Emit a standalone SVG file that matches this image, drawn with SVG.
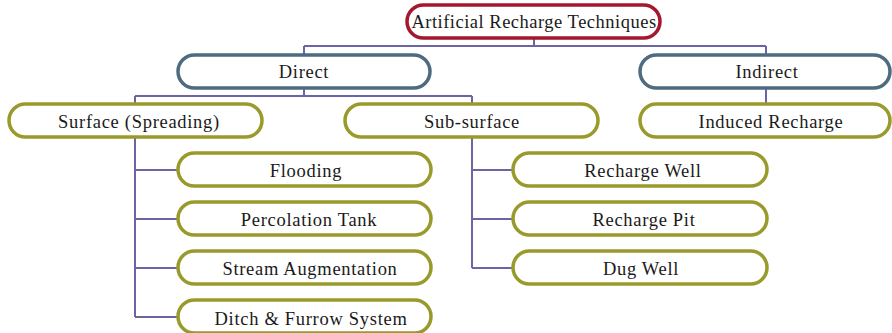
<svg xmlns="http://www.w3.org/2000/svg" width="892" height="333" viewBox="0 0 892 333">
<style>
.n rect{fill:#fff;stroke-width:3.5}
.r rect{stroke:#a5162f}
.b rect{stroke:#4e6b80}
.o rect{stroke:#9a9a2c}
text{font-family:"Liberation Serif","Times New Roman",serif;font-size:18.5px;fill:#1a1a1a;text-anchor:middle;letter-spacing:0.7px}
.c{fill:none;stroke:#6b66a3;stroke-width:2}
</style>
<rect width="892" height="333" fill="#fff"/>
<g id="connectors" class="c">
<path d="M534 38V46M304 46H766M304 46V55M766 46V55"/>
<path d="M304 88V96M135 96H472M135 96V104M472 96V104"/>
<path d="M766 88V104"/>
<path d="M135 137V317M135 170H178M135 219H178M135 268H178M135 317H178"/>
<path d="M472 137V268M472 170H513M472 219H513M472 268H513"/>
</g>
<g id="n-root" class="n r"><rect x="407" y="5" width="253" height="33" rx="16.5"/><text x="534" y="28" style="letter-spacing:0.5px">Artificial Recharge Techniques</text></g>
<g id="n-direct" class="n b"><rect x="178" y="55" width="252" height="33" rx="16.5"/><text x="304" y="78">Direct</text></g>
<g id="n-indirect" class="n b"><rect x="640" y="55" width="250" height="33" rx="16.5"/><text x="767" y="78">Indirect</text></g>
<g id="n-surface" class="n o"><rect x="9" y="104" width="253" height="33" rx="16.5"/><text x="139" y="128">Surface (Spreading)</text></g>
<g id="n-subsurface" class="n o"><rect x="345" y="104" width="253" height="33" rx="16.5"/><text x="472" y="128">Sub-surface</text></g>
<g id="n-induced" class="n o"><rect x="640" y="104" width="250" height="33" rx="16.5"/><text x="771" y="128">Induced Recharge</text></g>
<g id="n-flooding" class="n o"><rect x="178" y="153" width="253" height="33" rx="16.5"/><text x="306" y="177">Flooding</text></g>
<g id="n-percolation" class="n o"><rect x="178" y="202" width="253" height="33" rx="16.5"/><text x="309" y="226">Percolation Tank</text></g>
<g id="n-stream" class="n o"><rect x="178" y="251" width="253" height="33" rx="16.5"/><text x="310" y="275">Stream Augmentation</text></g>
<g id="n-ditch" class="n o"><rect x="178" y="300" width="253" height="33" rx="16.5"/><text x="311" y="325">Ditch &amp; Furrow System</text></g>
<g id="n-well" class="n o"><rect x="513" y="153" width="254" height="33" rx="16.5"/><text x="643" y="177">Recharge Well</text></g>
<g id="n-pit" class="n o"><rect x="513" y="202" width="254" height="33" rx="16.5"/><text x="644" y="226">Recharge Pit</text></g>
<g id="n-dug" class="n o"><rect x="513" y="251" width="254" height="33" rx="16.5"/><text x="641" y="275">Dug Well</text></g>
</svg>
